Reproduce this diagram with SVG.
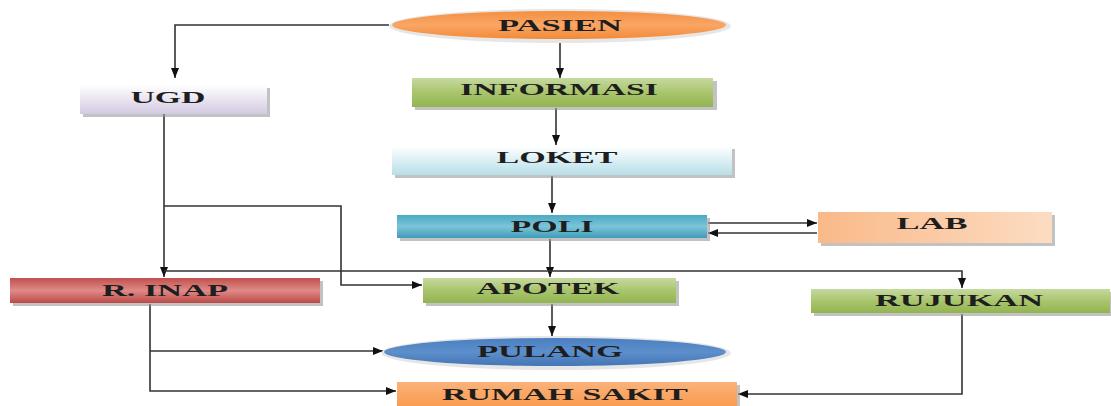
<svg xmlns="http://www.w3.org/2000/svg" width="1111" height="406" viewBox="0 0 1111 406">
<defs>
<style>
.lbl{font-family:"Liberation Serif","Times New Roman",serif;font-weight:bold;font-size:16px;fill:#1e1e1e;text-anchor:middle;dominant-baseline:central}
.ln{fill:none;stroke:#333;stroke-width:1.6}
.sh{fill:#9a9a9a;opacity:0.6}
</style>
<linearGradient id="gUgd" x1="0" y1="0" x2="0" y2="1"><stop offset="0" stop-color="#ffffff"/><stop offset="1" stop-color="#d3c9e2"/></linearGradient>
<linearGradient id="gGreen" x1="0" y1="0" x2="0" y2="1"><stop offset="0" stop-color="#c6d9a0"/><stop offset="0.5" stop-color="#a9c56c"/><stop offset="1" stop-color="#93b452"/></linearGradient>
<linearGradient id="gLoket" x1="0" y1="0" x2="0" y2="1"><stop offset="0" stop-color="#ffffff"/><stop offset="1" stop-color="#b7dee8"/></linearGradient>
<linearGradient id="gPoli" x1="0" y1="0" x2="0" y2="1"><stop offset="0" stop-color="#4aaac5"/><stop offset="0.5" stop-color="#7cc4d8"/><stop offset="1" stop-color="#3d9cb8"/></linearGradient>
<linearGradient id="gLab" x1="0" y1="0" x2="1" y2="0"><stop offset="0" stop-color="#f9b988"/><stop offset="1" stop-color="#fcdcc2"/></linearGradient>
<linearGradient id="gInap" x1="0" y1="0" x2="0" y2="1"><stop offset="0" stop-color="#c0504d"/><stop offset="0.5" stop-color="#df8a88"/><stop offset="1" stop-color="#bb4a47"/></linearGradient>
<linearGradient id="gRs" x1="0" y1="0" x2="0" y2="1"><stop offset="0" stop-color="#fbb27a"/><stop offset="1" stop-color="#f79646"/></linearGradient>
<linearGradient id="gPas" x1="0" y1="0" x2="0" y2="1"><stop offset="0" stop-color="#f58f3f"/><stop offset="0.5" stop-color="#f9a665"/><stop offset="1" stop-color="#f28a38"/></linearGradient>
<linearGradient id="gPul" x1="0" y1="0" x2="0" y2="1"><stop offset="0" stop-color="#4a7fc1"/><stop offset="0.5" stop-color="#5d8fcb"/><stop offset="1" stop-color="#4475b5"/></linearGradient>
<marker id="ah" markerWidth="10" markerHeight="8" refX="10" refY="4" orient="auto" markerUnits="userSpaceOnUse"><path d="M0,0 L10,4 L0,8 z" fill="#111"/></marker>
</defs>
<rect width="1111" height="406" fill="#ffffff"/>

<g id="connectors">
<path class="ln" d="M389,25 H175 V78" marker-end="url(#ah)"/>
<path class="ln" d="M560,42 V78" marker-end="url(#ah)"/>
<path class="ln" d="M556,108 V145" marker-end="url(#ah)"/>
<path class="ln" d="M552,176 V213" marker-end="url(#ah)"/>
<path class="ln" d="M708,223 H817" marker-end="url(#ah)"/>
<path class="ln" d="M817,233 H708" marker-end="url(#ah)"/>
<path class="ln" d="M550,239 V277" marker-end="url(#ah)"/>
<path class="ln" d="M164,114 V277" marker-end="url(#ah)"/>
<path class="ln" d="M164,271 H962 V288" marker-end="url(#ah)"/>
<path class="ln" d="M164,206 H341 V285 H422" marker-end="url(#ah)"/>
<path class="ln" d="M552,304 V336" marker-end="url(#ah)"/>
<path class="ln" d="M150,304 V391 H396" marker-end="url(#ah)"/>
<path class="ln" d="M150,351 H383" marker-end="url(#ah)"/>
<path class="ln" d="M962,314 V394 H738" marker-end="url(#ah)"/>
</g>

<g id="pasien">
<ellipse cx="560" cy="26" rx="171" ry="17" fill="#e6e6e6"/>
<ellipse cx="559" cy="25" rx="167" ry="14" fill="url(#gPas)"/>
<text class="lbl" x="560" y="25" textLength="124" lengthAdjust="spacingAndGlyphs">PASIEN</text>
</g>

<g id="informasi">
<rect class="sh" x="415" y="81" width="302" height="29"/>
<rect x="412" y="78" width="301" height="29" fill="url(#gGreen)"/>
<text class="lbl" x="559" y="89" textLength="198" lengthAdjust="spacingAndGlyphs">INFORMASI</text>
</g>

<g id="ugd">
<rect class="sh" x="83" y="88" width="187" height="29"/>
<rect x="80" y="85" width="187" height="29" fill="url(#gUgd)"/>
<text class="lbl" x="168" y="97" textLength="75" lengthAdjust="spacingAndGlyphs">UGD</text>
</g>

<g id="loket">
<rect class="sh" x="395" y="149" width="340" height="29"/>
<rect x="392" y="146" width="340" height="29" fill="url(#gLoket)"/>
<text class="lbl" x="557" y="157" textLength="121" lengthAdjust="spacingAndGlyphs">LOKET</text>
</g>

<g id="poli">
<rect class="sh" x="400" y="218" width="310" height="23"/>
<rect x="397" y="215" width="310" height="23" fill="url(#gPoli)"/>
<text class="lbl" x="552" y="226" textLength="83" lengthAdjust="spacingAndGlyphs">POLI</text>
</g>

<g id="lab">
<rect class="sh" x="821" y="215" width="234" height="31"/>
<rect x="818" y="212" width="234" height="31" fill="url(#gLab)"/>
<text class="lbl" x="932" y="223" textLength="71" lengthAdjust="spacingAndGlyphs">LAB</text>
</g>

<g id="r-inap">
<rect class="sh" x="13" y="281" width="310" height="25"/>
<rect x="10" y="278" width="310" height="25" fill="url(#gInap)"/>
<text class="lbl" x="165" y="290" textLength="126" lengthAdjust="spacingAndGlyphs">R. INAP</text>
</g>

<g id="apotek">
<rect class="sh" x="426" y="281" width="253" height="25"/>
<rect x="423" y="278" width="253" height="25" fill="url(#gGreen)"/>
<text class="lbl" x="548" y="288" textLength="143" lengthAdjust="spacingAndGlyphs">APOTEK</text>
</g>

<g id="rujukan">
<rect class="sh" x="814" y="292" width="297" height="24"/>
<rect x="811" y="289" width="299" height="24" fill="url(#gGreen)"/>
<text class="lbl" x="959" y="300" textLength="168" lengthAdjust="spacingAndGlyphs">RUJUKAN</text>
</g>

<g id="pulang">
<ellipse cx="556" cy="353" rx="175" ry="17" fill="#e6e6e6"/>
<ellipse cx="555" cy="352" rx="171" ry="14" fill="url(#gPul)"/>
<text class="lbl" x="550" y="351" textLength="146" lengthAdjust="spacingAndGlyphs">PULANG</text>
</g>

<g id="rumah-sakit">
<rect class="sh" x="400" y="385" width="340" height="30"/>
<rect x="397" y="382" width="340" height="30" fill="url(#gRs)"/>
<text class="lbl" x="565" y="394" textLength="246" lengthAdjust="spacingAndGlyphs">RUMAH SAKIT</text>
</g>
</svg>
